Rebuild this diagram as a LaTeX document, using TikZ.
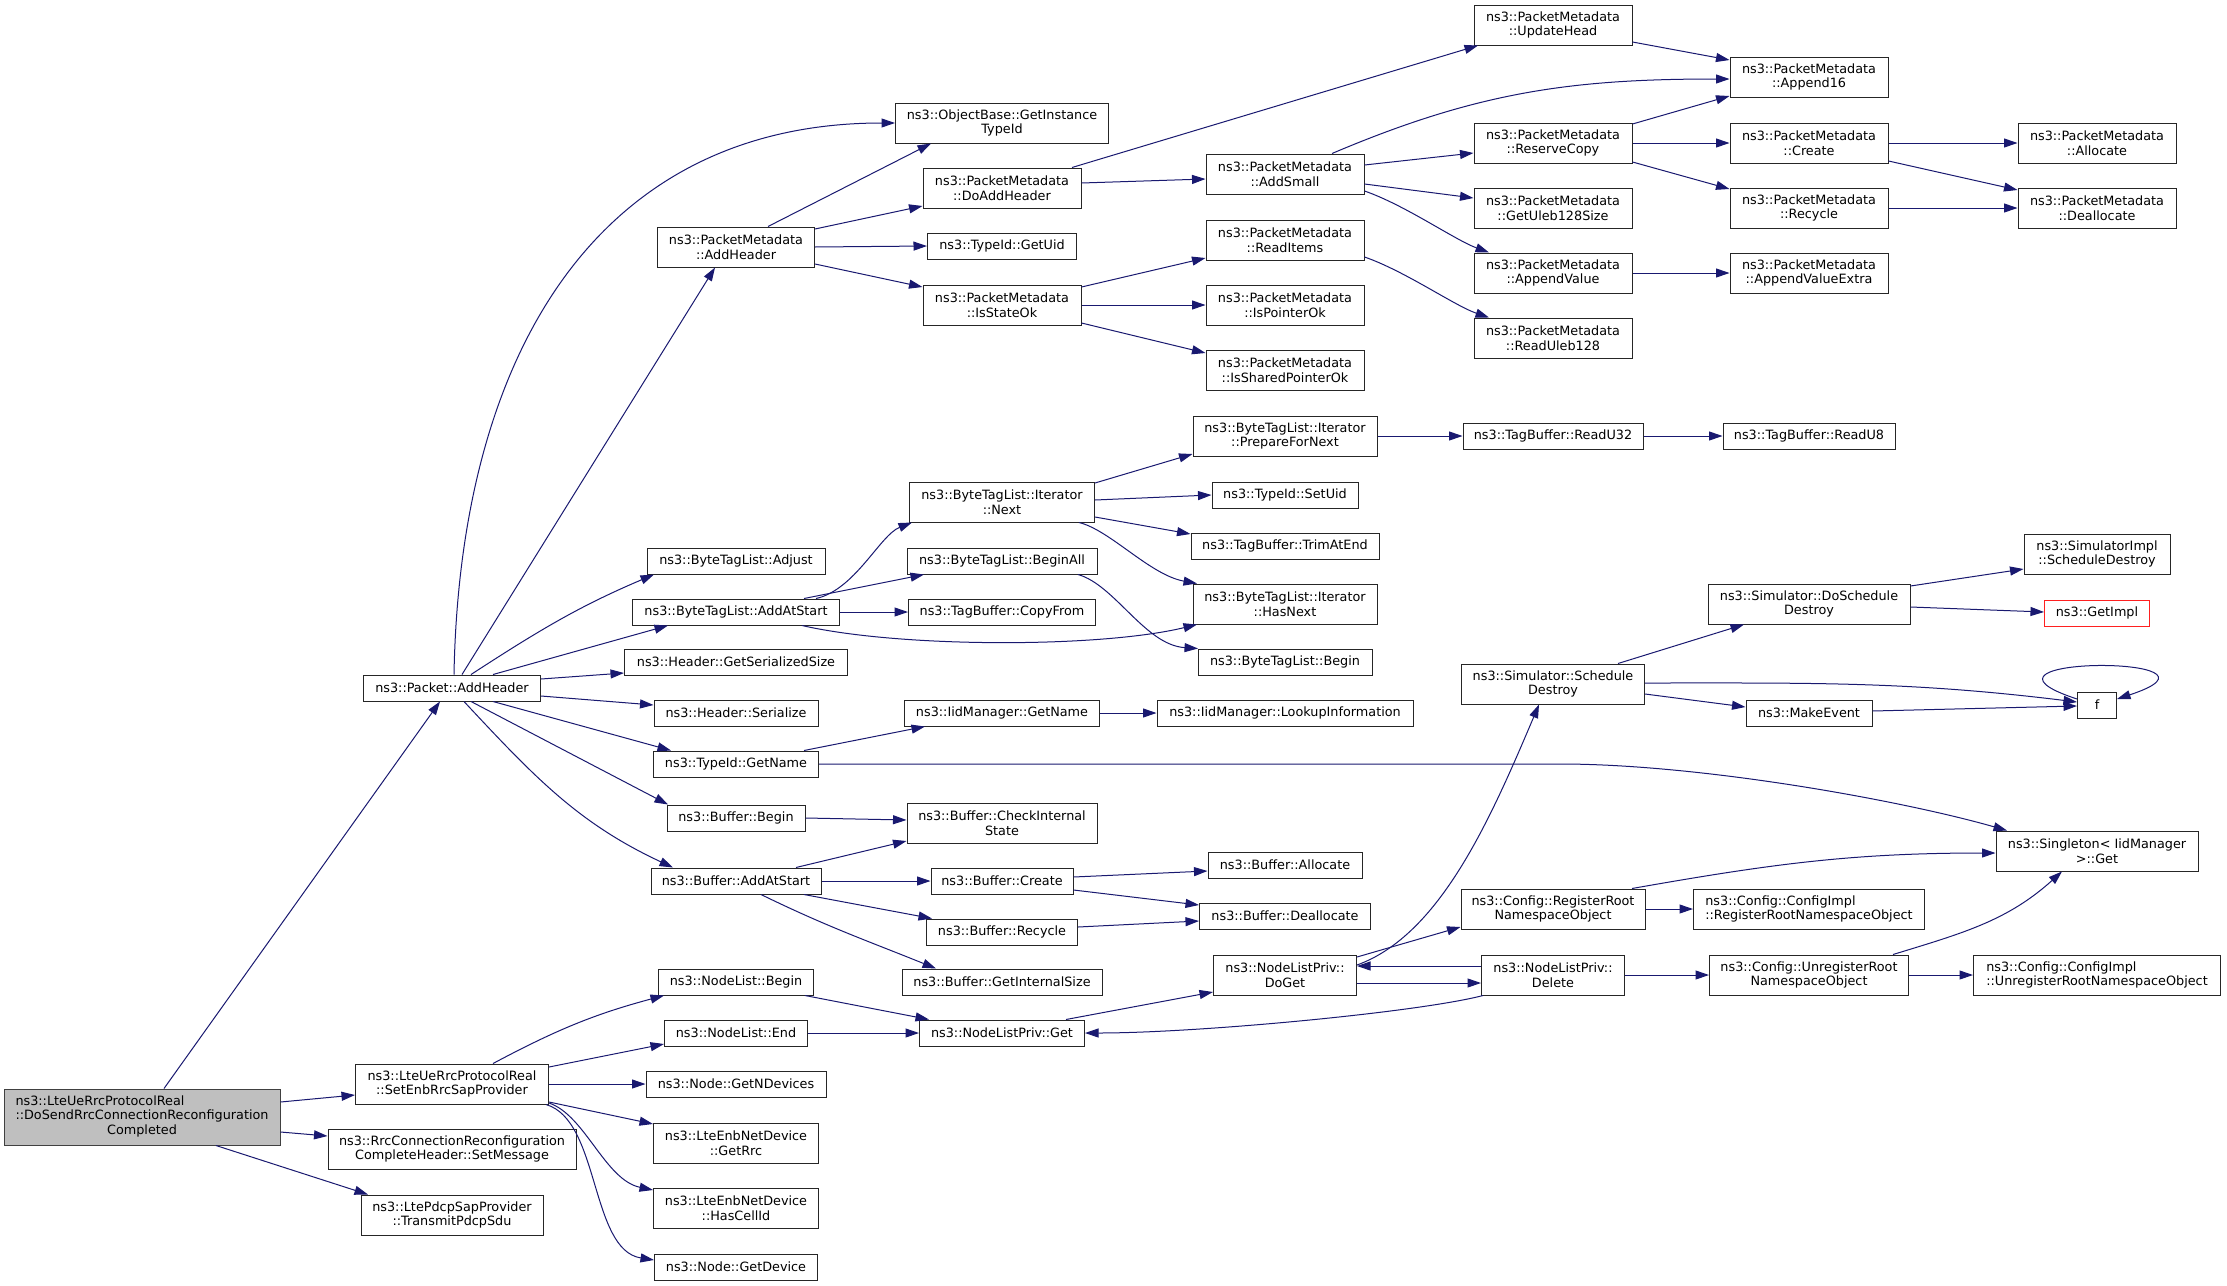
\documentclass[tikz,border=0pt]{standalone}
\usepackage{fontspec}
\newfontfamily\dvs{DejaVu Sans}
\usetikzlibrary{arrows.meta}
\definecolor{edgec}{HTML}{191970}
\definecolor{rootfill}{HTML}{BFBFBF}
\definecolor{rootdraw}{HTML}{404040}
\definecolor{nodedraw}{HTML}{262626}
\definecolor{truncred}{HTML}{FF2020}
\tikzset{
  nb/.style={draw=nodedraw, line width=1pt, fill=white, inner sep=0pt, align=center,
             font=\dvs\fontsize{12.8}{14.5}\selectfont},
  root/.style={fill=rootfill, draw=rootdraw},
  trunc/.style={draw=truncred},
  ed/.style={draw=edgec, line width=1pt, -{Triangle[length=13.5pt,width=9pt]}},
}
\newcommand\mk[7][]{\node[nb,#1,minimum width=#5,minimum height=#6] (#2) at (#3,-#4) {#7};}
\begin{document}
\begin{tikzpicture}[x=1pt,y=1pt]
\fill[white] (0,0) rectangle (2227,-1285);
\useasboundingbox (0,0) rectangle (2227,-1285);

% ---------- nodes ----------
\mk[root]{main}{142}{1117}{276}{56}{\begin{tabular}{@{}l@{}}ns3::LteUeRrcProtocolReal\\::DoSendRrcConnectionReconfiguration\\\multicolumn{1}{@{}c@{}}{Completed}\end{tabular}}
\mk{pah}{452}{688}{177}{26}{ns3::Packet::AddHeader}
\mk{pma}{736}{247}{157}{40}{ns3::PacketMetadata\\::AddHeader}
\mk{gi}{1002}{123}{213}{40}{ns3::ObjectBase::GetInstance\\TypeId}
\mk{dah}{1002}{188}{158}{40}{ns3::PacketMetadata\\::DoAddHeader}
\mk{uid}{1002}{246}{149}{26}{ns3::TypeId::GetUid}
\mk{iso}{1002}{305}{158}{40}{ns3::PacketMetadata\\::IsStateOk}
\mk{uh}{1553}{25}{158}{40}{ns3::PacketMetadata\\::UpdateHead}
\mk{as}{1285}{174}{158}{40}{ns3::PacketMetadata\\::AddSmall}
\mk{ri}{1285}{240}{158}{40}{ns3::PacketMetadata\\::ReadItems}
\mk{ipo}{1285}{305}{158}{40}{ns3::PacketMetadata\\::IsPointerOk}
\mk{ispo}{1285}{370}{158}{40}{ns3::PacketMetadata\\::IsSharedPointerOk}
\mk{rc}{1553}{143}{158}{40}{ns3::PacketMetadata\\::ReserveCopy}
\mk{gus}{1553}{208}{158}{40}{ns3::PacketMetadata\\::GetUleb128Size}
\mk{av}{1553}{273}{158}{40}{ns3::PacketMetadata\\::AppendValue}
\mk{ru}{1553}{338}{158}{40}{ns3::PacketMetadata\\::ReadUleb128}
\mk{a16}{1809}{77}{158}{40}{ns3::PacketMetadata\\::Append16}
\mk{cr}{1809}{143}{158}{40}{ns3::PacketMetadata\\::Create}
\mk{rcy}{1809}{208}{158}{40}{ns3::PacketMetadata\\::Recycle}
\mk{ave}{1809}{273}{158}{40}{ns3::PacketMetadata\\::AppendValueExtra}
\mk{al}{2097}{143}{158}{40}{ns3::PacketMetadata\\::Allocate}
\mk{dal}{2097}{208}{158}{40}{ns3::PacketMetadata\\::Deallocate}
\mk{adj}{736}{561}{178}{26}{ns3::ByteTagList::Adjust}
\mk{aas}{736}{612}{207}{26}{ns3::ByteTagList::AddAtStart}
\mk{gss}{736}{662}{223}{26}{ns3::Header::GetSerializedSize}
\mk{hs}{736}{713}{164}{26}{ns3::Header::Serialize}
\mk{tgn}{736}{764}{165}{26}{ns3::TypeId::GetName}
\mk{bb}{736}{818}{138}{26}{ns3::Buffer::Begin}
\mk{nx}{1002}{502}{185}{40}{ns3::ByteTagList::Iterator\\::Next}
\mk{ba}{1002}{561}{190}{26}{ns3::ByteTagList::BeginAll}
\mk{cf}{1002}{612}{187}{26}{ns3::TagBuffer::CopyFrom}
\mk{ign}{1002}{713}{195}{26}{ns3::IidManager::GetName}
\mk{cis}{1002}{823}{190}{40}{ns3::Buffer::CheckInternal\\State}
\mk{pfn}{1285}{436}{184}{40}{ns3::ByteTagList::Iterator\\::PrepareForNext}
\mk{su}{1285}{495}{146}{26}{ns3::TypeId::SetUid}
\mk{tae}{1285}{546}{188}{26}{ns3::TagBuffer::TrimAtEnd}
\mk{hn}{1285}{604}{184}{40}{ns3::ByteTagList::Iterator\\::HasNext}
\mk{btb}{1285}{662}{174}{26}{ns3::ByteTagList::Begin}
\mk{lu}{1285}{713}{256}{26}{ns3::IidManager::LookupInformation}
\mk{r32}{1553}{436}{180}{26}{ns3::TagBuffer::ReadU32}
\mk{sd}{1553}{684}{183}{40}{ns3::Simulator::Schedule\\Destroy}
\mk{r8}{1809}{436}{172}{26}{ns3::TagBuffer::ReadU8}
\mk{dsd}{1809}{604}{202}{40}{ns3::Simulator::DoSchedule\\Destroy}
\mk{si}{2097}{554}{146}{40}{ns3::SimulatorImpl\\::ScheduleDestroy}
\mk[trunc]{gim}{2097}{613}{105}{26}{ns3::GetImpl}
\mk{me}{1809}{713}{126}{26}{ns3::MakeEvent}
\mk{f}{2097}{705}{39}{26}{f}
\mk{sg}{2097}{851}{202}{40}{ns3::Singleton< IidManager\\>::Get}
\mk{ser}{452}{1084}{193}{40}{ns3::LteUeRrcProtocolReal\\::SetEnbRrcSapProvider}
\mk{sm}{452}{1149}{248}{40}{ns3::RrcConnectionReconfiguration\\CompleteHeader::SetMessage}
\mk{tps}{452}{1215}{182}{40}{ns3::LtePdcpSapProvider\\::TransmitPdcpSdu}
\mk{bas}{736}{881}{170}{26}{ns3::Buffer::AddAtStart}
\mk{bcr}{1002}{881}{142}{26}{ns3::Buffer::Create}
\mk{brc}{1002}{932}{151}{26}{ns3::Buffer::Recycle}
\mk{gis}{1002}{982}{200}{26}{ns3::Buffer::GetInternalSize}
\mk{nlb}{736}{982}{155}{26}{ns3::NodeList::Begin}
\mk{nle}{736}{1033}{143}{26}{ns3::NodeList::End}
\mk{gnd}{736}{1084}{180}{26}{ns3::Node::GetNDevices}
\mk{grr}{736}{1143}{165}{40}{ns3::LteEnbNetDevice\\::GetRrc}
\mk{hci}{736}{1208}{165}{40}{ns3::LteEnbNetDevice\\::HasCellId}
\mk{gdv}{736}{1267}{163}{26}{ns3::Node::GetDevice}
\mk{nlg}{1002}{1033}{165}{26}{ns3::NodeListPriv::Get}
\mk{bal}{1285}{865}{154}{26}{ns3::Buffer::Allocate}
\mk{bdl}{1285}{916}{171}{26}{ns3::Buffer::Deallocate}
\mk{dg}{1285}{975}{143}{40}{ns3::NodeListPriv::\\DoGet}
\mk{rr}{1553}{909}{184}{40}{ns3::Config::RegisterRoot\\NamespaceObject}
\mk{del}{1553}{975}{143}{40}{ns3::NodeListPriv::\\Delete}
\mk[align=left]{cir}{1809}{909}{231}{40}{ns3::Config::ConfigImpl\\::RegisterRootNamespaceObject}
\mk{ur}{1809}{975}{199}{40}{ns3::Config::UnregisterRoot\\NamespaceObject}
\mk[align=left]{ciu}{2097}{975}{247}{40}{ns3::Config::ConfigImpl\\::UnregisterRootNamespaceObject}

% ---------- edges ----------
\draw[ed] ([xshift=22]main.north) -- ([xshift=-12]pah.south);
\draw[ed] ([yshift=15]main.east) -- ([yshift=-11]ser.west);
\draw[ed] ([yshift=-15]main.east) -- ([yshift=13]sm.west);
\draw[ed] ([xshift=74]main.south) -- ([xshift=-84]tps.north);

\draw[ed] ([xshift=2]pah.north) .. controls (460,-350) and (600,-123) .. (gi.west);
\draw[ed] ([xshift=10]pah.north) -- ([xshift=-21]pma.south);
\draw[ed] ([xshift=19]pah.north) to[out=33,in=-157] ([xshift=-82]adj.south);
\draw[ed] ([xshift=41]pah.north) -- ([xshift=-68]aas.south);
\draw[ed] ([yshift=9]pah.east) -- ([yshift=-11]gss.west);
\draw[ed] ([yshift=-8]pah.east) -- ([yshift=8]hs.west);
\draw[ed] ([xshift=41]pah.south) -- ([xshift=-65]tgn.north);
\draw[ed] ([xshift=19]pah.south) -- ([xshift=-68]bb.north);
\draw[ed] ([xshift=12]pah.south) to[out=-47,in=155] ([xshift=-63]bas.north);

\draw[ed] ([xshift=32]pma.north) -- ([xshift=-71]gi.south);
\draw[ed] ([yshift=18]pma.east) -- ([yshift=-18]dah.west);
\draw[ed] (pma.east) -- (uid.west);
\draw[ed] ([yshift=-17]pma.east) -- ([yshift=18]iso.west);

\draw[ed] ([xshift=70]dah.north) -- ([xshift=-75]uh.south);
\draw[ed] ([yshift=5]dah.east) -- ([yshift=-5]as.west);
\draw[ed] ([yshift=18]iso.east) -- ([yshift=-18]ri.west);
\draw[ed] (iso.east) -- (ipo.west);
\draw[ed] ([yshift=-18]iso.east) -- ([yshift=17]ispo.west);

\draw[ed] ([xshift=47]as.north) to[out=23,in=180] ([yshift=-2]a16.west);
\draw[ed] ([yshift=9]as.east) -- ([yshift=-10]rc.west);
\draw[ed] ([yshift=-10]as.east) -- ([yshift=10]gus.west);
\draw[ed] ([yshift=-17]as.east) .. controls (1405,-205) and (1455,-240) .. ([xshift=-64]av.north);
\draw[ed] ([yshift=-17]ri.east) .. controls (1405,-271) and (1455,-306) .. ([xshift=-64]ru.north);

\draw[ed] ([yshift=-17]uh.east) -- ([yshift=17]a16.west);
\draw[ed] ([yshift=19]rc.east) -- ([yshift=-19]a16.west);
\draw[ed] (rc.east) -- (cr.west);
\draw[ed] ([yshift=-19]rc.east) -- ([yshift=19]rcy.west);
\draw[ed] (cr.east) -- (al.west);
\draw[ed] ([yshift=-18]cr.east) -- ([yshift=18]dal.west);
\draw[ed] (rcy.east) -- (dal.west);
\draw[ed] (av.east) -- (ave.west);

\draw[ed] ([xshift=80]aas.north) .. controls (855,-590) and (880,-535) .. ([xshift=-90]nx.south);
\draw[ed] ([xshift=68]aas.north) -- ([xshift=-78]ba.south);
\draw[ed] (aas.east) -- (cf.west);
\draw[ed] ([xshift=66]aas.south) .. controls (900,-648) and (1100,-648) .. ([xshift=-88]hn.south);

\draw[ed] ([yshift=19]nx.east) -- ([yshift=-18]pfn.west);
\draw[ed] ([yshift=2]nx.east) -- (su.west);
\draw[ed] ([yshift=-15]nx.east) -- ([yshift=12]tae.west);
\draw[ed] ([xshift=77]nx.south) .. controls (1110,-530) and (1150,-575) .. ([xshift=-88]hn.north);
\draw[ed] ([xshift=76]ba.south) .. controls (1115,-585) and (1145,-645) .. ([xshift=-87]btb.north);
\draw[ed] (pfn.east) -- (r32.west);
\draw[ed] (r32.east) -- (r8.west);

\draw[ed] ([xshift=68]tgn.north) -- ([xshift=-77]ign.south);
\draw[ed] (tgn.east) -- (1560,-764) .. controls (1700,-764) and (1900,-800) .. ([xshift=-90]sg.north);
\draw[ed] (ign.east) -- (lu.west);

\draw[ed] (bb.east) -- ([yshift=3]cis.west);
\draw[ed] ([xshift=60]bas.north) -- ([yshift=-18]cis.west);
\draw[ed] (bas.east) -- (bcr.west);
\draw[ed] ([xshift=68]bas.south) -- ([xshift=-70]brc.north);
\draw[ed] ([xshift=25]bas.south) to[out=-26,in=158] ([xshift=-66]gis.north);
\draw[ed] ([yshift=4]bcr.east) -- ([yshift=-6]bal.west);
\draw[ed] ([yshift=-9]bcr.east) -- ([yshift=11]bdl.west);
\draw[ed] ([yshift=5]brc.east) -- ([yshift=-5]bdl.west);

\draw[ed] ([xshift=41]ser.north) to[out=28,in=-165] ([xshift=-72]nlb.south);
\draw[ed] ([yshift=17]ser.east) -- ([yshift=-11]nle.west);
\draw[ed] (ser.east) -- (gnd.west);
\draw[ed] ([yshift=-18]ser.east) -- ([yshift=19]grr.west);
\draw[ed] ([yshift=-19]ser.east) .. controls (585,-1115) and (605,-1180) .. ([yshift=18]hci.west);
\draw[ed] ([xshift=-3]ser.south east) .. controls (600,-1120) and (590,-1250) .. ([yshift=7]gdv.west);

\draw[ed] ([xshift=69]nlb.south) -- ([xshift=-73]nlg.north);
\draw[ed] (nle.east) -- (nlg.west);
\draw[ed] ([xshift=64]nlg.north) -- ([yshift=-17]dg.west);
\draw[ed] ([xshift=2]del.south west) .. controls (1420,-1012) and (1200,-1033) .. (nlg.east);

\draw[ed] ([yshift=10]dg.east) .. controls (1440,-935) and (1490,-820) .. ([xshift=-14]sd.south);
\draw[ed] ([yshift=18]dg.east) -- ([yshift=-18]rr.west);
\draw[ed] ([yshift=-8]dg.east) -- ([yshift=-8]del.west);
\draw[ed] ([yshift=9]del.west) -- ([yshift=9]dg.east);
\draw[ed] (rr.east) -- (cir.west);
\draw[ed] ([xshift=79]rr.north) to[out=10,in=180] ([yshift=-2]sg.west);
\draw[ed] (del.east) -- (ur.west);
\draw[ed] (ur.east) -- (ciu.west);
\draw[ed] ([xshift=84]ur.north) to[out=17,in=-138] ([xshift=-35]sg.south);

\draw[ed] ([xshift=65]sd.north) -- ([xshift=-65]dsd.south);
\draw[ed] ([yshift=1]sd.east) to[out=0,in=173] ([yshift=3]f.west);
\draw[ed] ([yshift=-10]sd.east) -- ([yshift=6]me.west);
\draw[ed] ([yshift=18]dsd.east) -- ([yshift=-15]si.west);
\draw[ed] ([yshift=-3]dsd.east) -- ([yshift=1]gim.west);
\draw[ed] ([yshift=2]me.east) -- ([yshift=-1]f.west);
\draw[ed] ([yshift=6]f.west) .. controls (1943,-655) and (2251,-655) .. ([yshift=6]f.east);
\end{tikzpicture}
\end{document}
